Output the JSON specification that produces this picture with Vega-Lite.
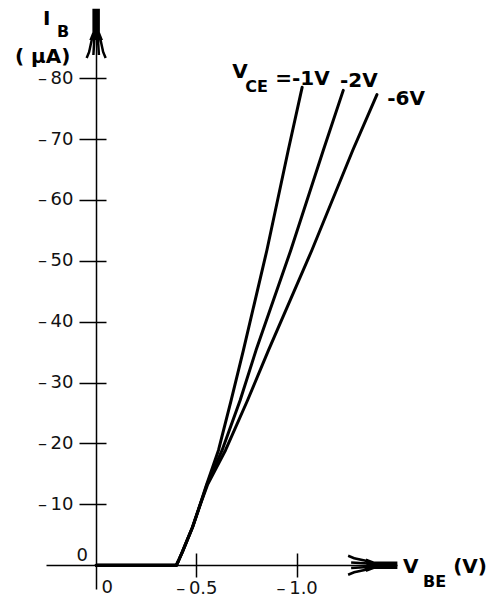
{
  "$schema": "https://vega.github.io/schema/vega-lite/v6.json",
  "width": 351,
  "height": 579,
  "autosize": "none",
  "padding": {"left": 46, "top": 10, "right": 101, "bottom": 25},
  "background": "white",
  "config": {
    "view": {"stroke": null},
    "font": "DejaVu Sans",
    "axis": {
      "labelFont": "DejaVu Sans",
      "labelColor": "#111111",
      "labelFontSize": 18,
      "domainColor": "black",
      "tickColor": "black",
      "domainWidth": 1.5,
      "tickWidth": 1.5,
      "grid": false,
      "title": null
    }
  },
  "datasets": {
    "curves": [
      {"vce": "-1V", "o": 1, "V": 0, "I": 0},
      {"vce": "-1V", "o": 2, "V": -0.40, "I": 0},
      {"vce": "-1V", "o": 3, "V": -0.41, "I": -0.7},
      {"vce": "-1V", "o": 4, "V": -0.43, "I": -2.2},
      {"vce": "-1V", "o": 5, "V": -0.455, "I": -4.2},
      {"vce": "-1V", "o": 6, "V": -0.48, "I": -6.2},
      {"vce": "-1V", "o": 7, "V": -0.515, "I": -9.6},
      {"vce": "-1V", "o": 8, "V": -0.55, "I": -13.2},
      {"vce": "-1V", "o": 9, "V": -0.61, "I": -18.9},
      {"vce": "-1V", "o": 10, "V": -0.673, "I": -27.1},
      {"vce": "-1V", "o": 11, "V": -0.734, "I": -35.3},
      {"vce": "-1V", "o": 12, "V": -0.851, "I": -51.7},
      {"vce": "-1V", "o": 13, "V": -0.958, "I": -68.2},
      {"vce": "-1V", "o": 14, "V": -1.027, "I": -78.5},
      {"vce": "-2V", "o": 1, "V": 0, "I": 0},
      {"vce": "-2V", "o": 2, "V": -0.40, "I": 0},
      {"vce": "-2V", "o": 3, "V": -0.41, "I": -0.7},
      {"vce": "-2V", "o": 4, "V": -0.43, "I": -2.2},
      {"vce": "-2V", "o": 5, "V": -0.455, "I": -4.2},
      {"vce": "-2V", "o": 6, "V": -0.48, "I": -6.2},
      {"vce": "-2V", "o": 7, "V": -0.515, "I": -9.6},
      {"vce": "-2V", "o": 8, "V": -0.552, "I": -13.2},
      {"vce": "-2V", "o": 9, "V": -0.628, "I": -18.9},
      {"vce": "-2V", "o": 10, "V": -0.718, "I": -27.1},
      {"vce": "-2V", "o": 11, "V": -0.797, "I": -35.3},
      {"vce": "-2V", "o": 12, "V": -0.970, "I": -51.7},
      {"vce": "-2V", "o": 13, "V": -1.133, "I": -68.2},
      {"vce": "-2V", "o": 14, "V": -1.232, "I": -78.0},
      {"vce": "-6V", "o": 1, "V": 0, "I": 0},
      {"vce": "-6V", "o": 2, "V": -0.40, "I": 0},
      {"vce": "-6V", "o": 3, "V": -0.41, "I": -0.7},
      {"vce": "-6V", "o": 4, "V": -0.43, "I": -2.2},
      {"vce": "-6V", "o": 5, "V": -0.455, "I": -4.2},
      {"vce": "-6V", "o": 6, "V": -0.48, "I": -6.2},
      {"vce": "-6V", "o": 7, "V": -0.515, "I": -9.6},
      {"vce": "-6V", "o": 8, "V": -0.555, "I": -13.2},
      {"vce": "-6V", "o": 9, "V": -0.645, "I": -18.9},
      {"vce": "-6V", "o": 10, "V": -0.755, "I": -27.1},
      {"vce": "-6V", "o": 11, "V": -0.859, "I": -35.3},
      {"vce": "-6V", "o": 12, "V": -1.075, "I": -51.7},
      {"vce": "-6V", "o": 13, "V": -1.280, "I": -68.2},
      {"vce": "-6V", "o": 14, "V": -1.40, "I": -77.3}
    ],
    "arrows": [
      {"V": 0, "I": -87.1, "a": 0},
      {"V": -1.371, "I": 0, "a": 90}
    ],
    "mainLabels": [
      {"t": "I", "V": 0.265, "I": -88.7},
      {"t": "( µA)", "V": 0.405, "I": -82.5},
      {"t": "V", "V": -0.678, "I": -80.0},
      {"t": "=-1V", "V": -0.893, "I": -78.9},
      {"t": "-2V", "V": -1.216, "I": -78.6},
      {"t": "-6V", "V": -1.451, "I": -75.6},
      {"t": "V", "V": -1.530, "I": 1.28},
      {"t": "(V)", "V": -1.780, "I": 1.28}
    ],
    "subLabels": [
      {"t": "B", "V": 0.195, "I": -86.7},
      {"t": "CE", "V": -0.743, "I": -77.7},
      {"t": "BE", "V": -1.630, "I": 3.58}
    ],
    "zeroLabels": [
      {"t": "0", "V": 0.07, "I": -1.5},
      {"t": "0", "V": -0.055, "I": 3.7}
    ]
  },
  "resolve": {"axis": {"x": "independent", "y": "independent"}},
  "layer": [
    {
      "data": {"name": "curves"},
      "mark": {"type": "line", "color": "black", "strokeWidth": 3, "strokeJoin": "round", "strokeCap": "round", "interpolate": "linear"},
      "encoding": {
        "x": {"field": "V", "type": "quantitative",
              "scale": {"domain": [-1.5, 0.25], "reverse": true, "nice": false, "zero": false},
              "axis": {"orient": "bottom", "offset": -24, "values": [-0.5, -1.0], "tickSize": 12, "labelPadding": 2, "labelDx": -10, "labelFontSize": 18,
                       "labelExpr": "'\u2013\u2009' + format(abs(datum.value), '.1f')"}},
        "y": {"field": "I", "type": "quantitative",
              "scale": {"domain": [-91.2, 3.9], "reverse": true, "nice": false, "zero": false},
              "axis": {"orient": "left", "offset": -50, "values": [-80, -70, -60, -50, -40, -30, -20, -10], "tickSize": 17, "labelPadding": 6,
                       "labelExpr": "'\u2013\u2009' + abs(datum.value)"}},
        "detail": {"field": "vce", "type": "nominal"},
        "order": {"field": "o", "type": "quantitative"}
      }
    },
    {
      "data": {"name": "arrows"},
      "mark": {"type": "point", "filled": true, "fill": "black", "stroke": "black", "strokeWidth": 2.5, "opacity": 1, "size": 2500,
               "shape": "M-0.1,-1L0.1,-1L0.1,-0.1L0.2,0.15L-0.2,0.15L-0.1,-0.1Z M-0.16,0.12L-0.28,0.68L-0.38,0.92 M-0.07,0.12L-0.11,0.8 M0.16,0.12L0.28,0.68L0.38,0.92 M0.07,0.12L0.11,0.8"},
      "encoding": {
        "x": {"field": "V", "type": "quantitative",
              "scale": {"domain": [-1.5, 0.25], "reverse": true, "nice": false, "zero": false},
              "axis": {"orient": "bottom", "offset": -36, "values": [-0.5, -1.0], "tickSize": 12, "labels": false, "domain": false}},
        "y": {"field": "I", "type": "quantitative",
              "scale": {"domain": [-91.2, 3.9], "reverse": true, "nice": false, "zero": false},
              "axis": {"orient": "left", "offset": -60, "values": [-80, -70, -60, -50, -40, -30, -20, -10], "tickSize": 10, "labels": false, "domain": false}},
        "angle": {"field": "a", "type": "quantitative", "scale": null}
      }
    },
    {
      "data": {"name": "mainLabels"},
      "mark": {"type": "text", "align": "left", "baseline": "alphabetic", "font": "DejaVu Sans", "fontWeight": "bold", "fontSize": 20, "color": "black"},
      "encoding": {
        "x": {"field": "V", "type": "quantitative", "scale": {"domain": [-1.5, 0.25], "reverse": true, "nice": false, "zero": false}, "axis": null},
        "y": {"field": "I", "type": "quantitative", "scale": {"domain": [-91.2, 3.9], "reverse": true, "nice": false, "zero": false}, "axis": null},
        "text": {"field": "t"}
      }
    },
    {
      "data": {"name": "subLabels"},
      "mark": {"type": "text", "align": "left", "baseline": "alphabetic", "font": "DejaVu Sans", "fontWeight": "bold", "fontSize": 16, "color": "black"},
      "encoding": {
        "x": {"field": "V", "type": "quantitative", "scale": {"domain": [-1.5, 0.25], "reverse": true, "nice": false, "zero": false}, "axis": null},
        "y": {"field": "I", "type": "quantitative", "scale": {"domain": [-91.2, 3.9], "reverse": true, "nice": false, "zero": false}, "axis": null},
        "text": {"field": "t"}
      }
    },
    {
      "data": {"name": "zeroLabels"},
      "mark": {"type": "text", "align": "center", "baseline": "middle", "font": "DejaVu Sans", "fontSize": 18, "color": "#111111"},
      "encoding": {
        "x": {"field": "V", "type": "quantitative", "scale": {"domain": [-1.5, 0.25], "reverse": true, "nice": false, "zero": false}, "axis": null},
        "y": {"field": "I", "type": "quantitative", "scale": {"domain": [-91.2, 3.9], "reverse": true, "nice": false, "zero": false}, "axis": null},
        "text": {"field": "t"}
      }
    }
  ]
}
